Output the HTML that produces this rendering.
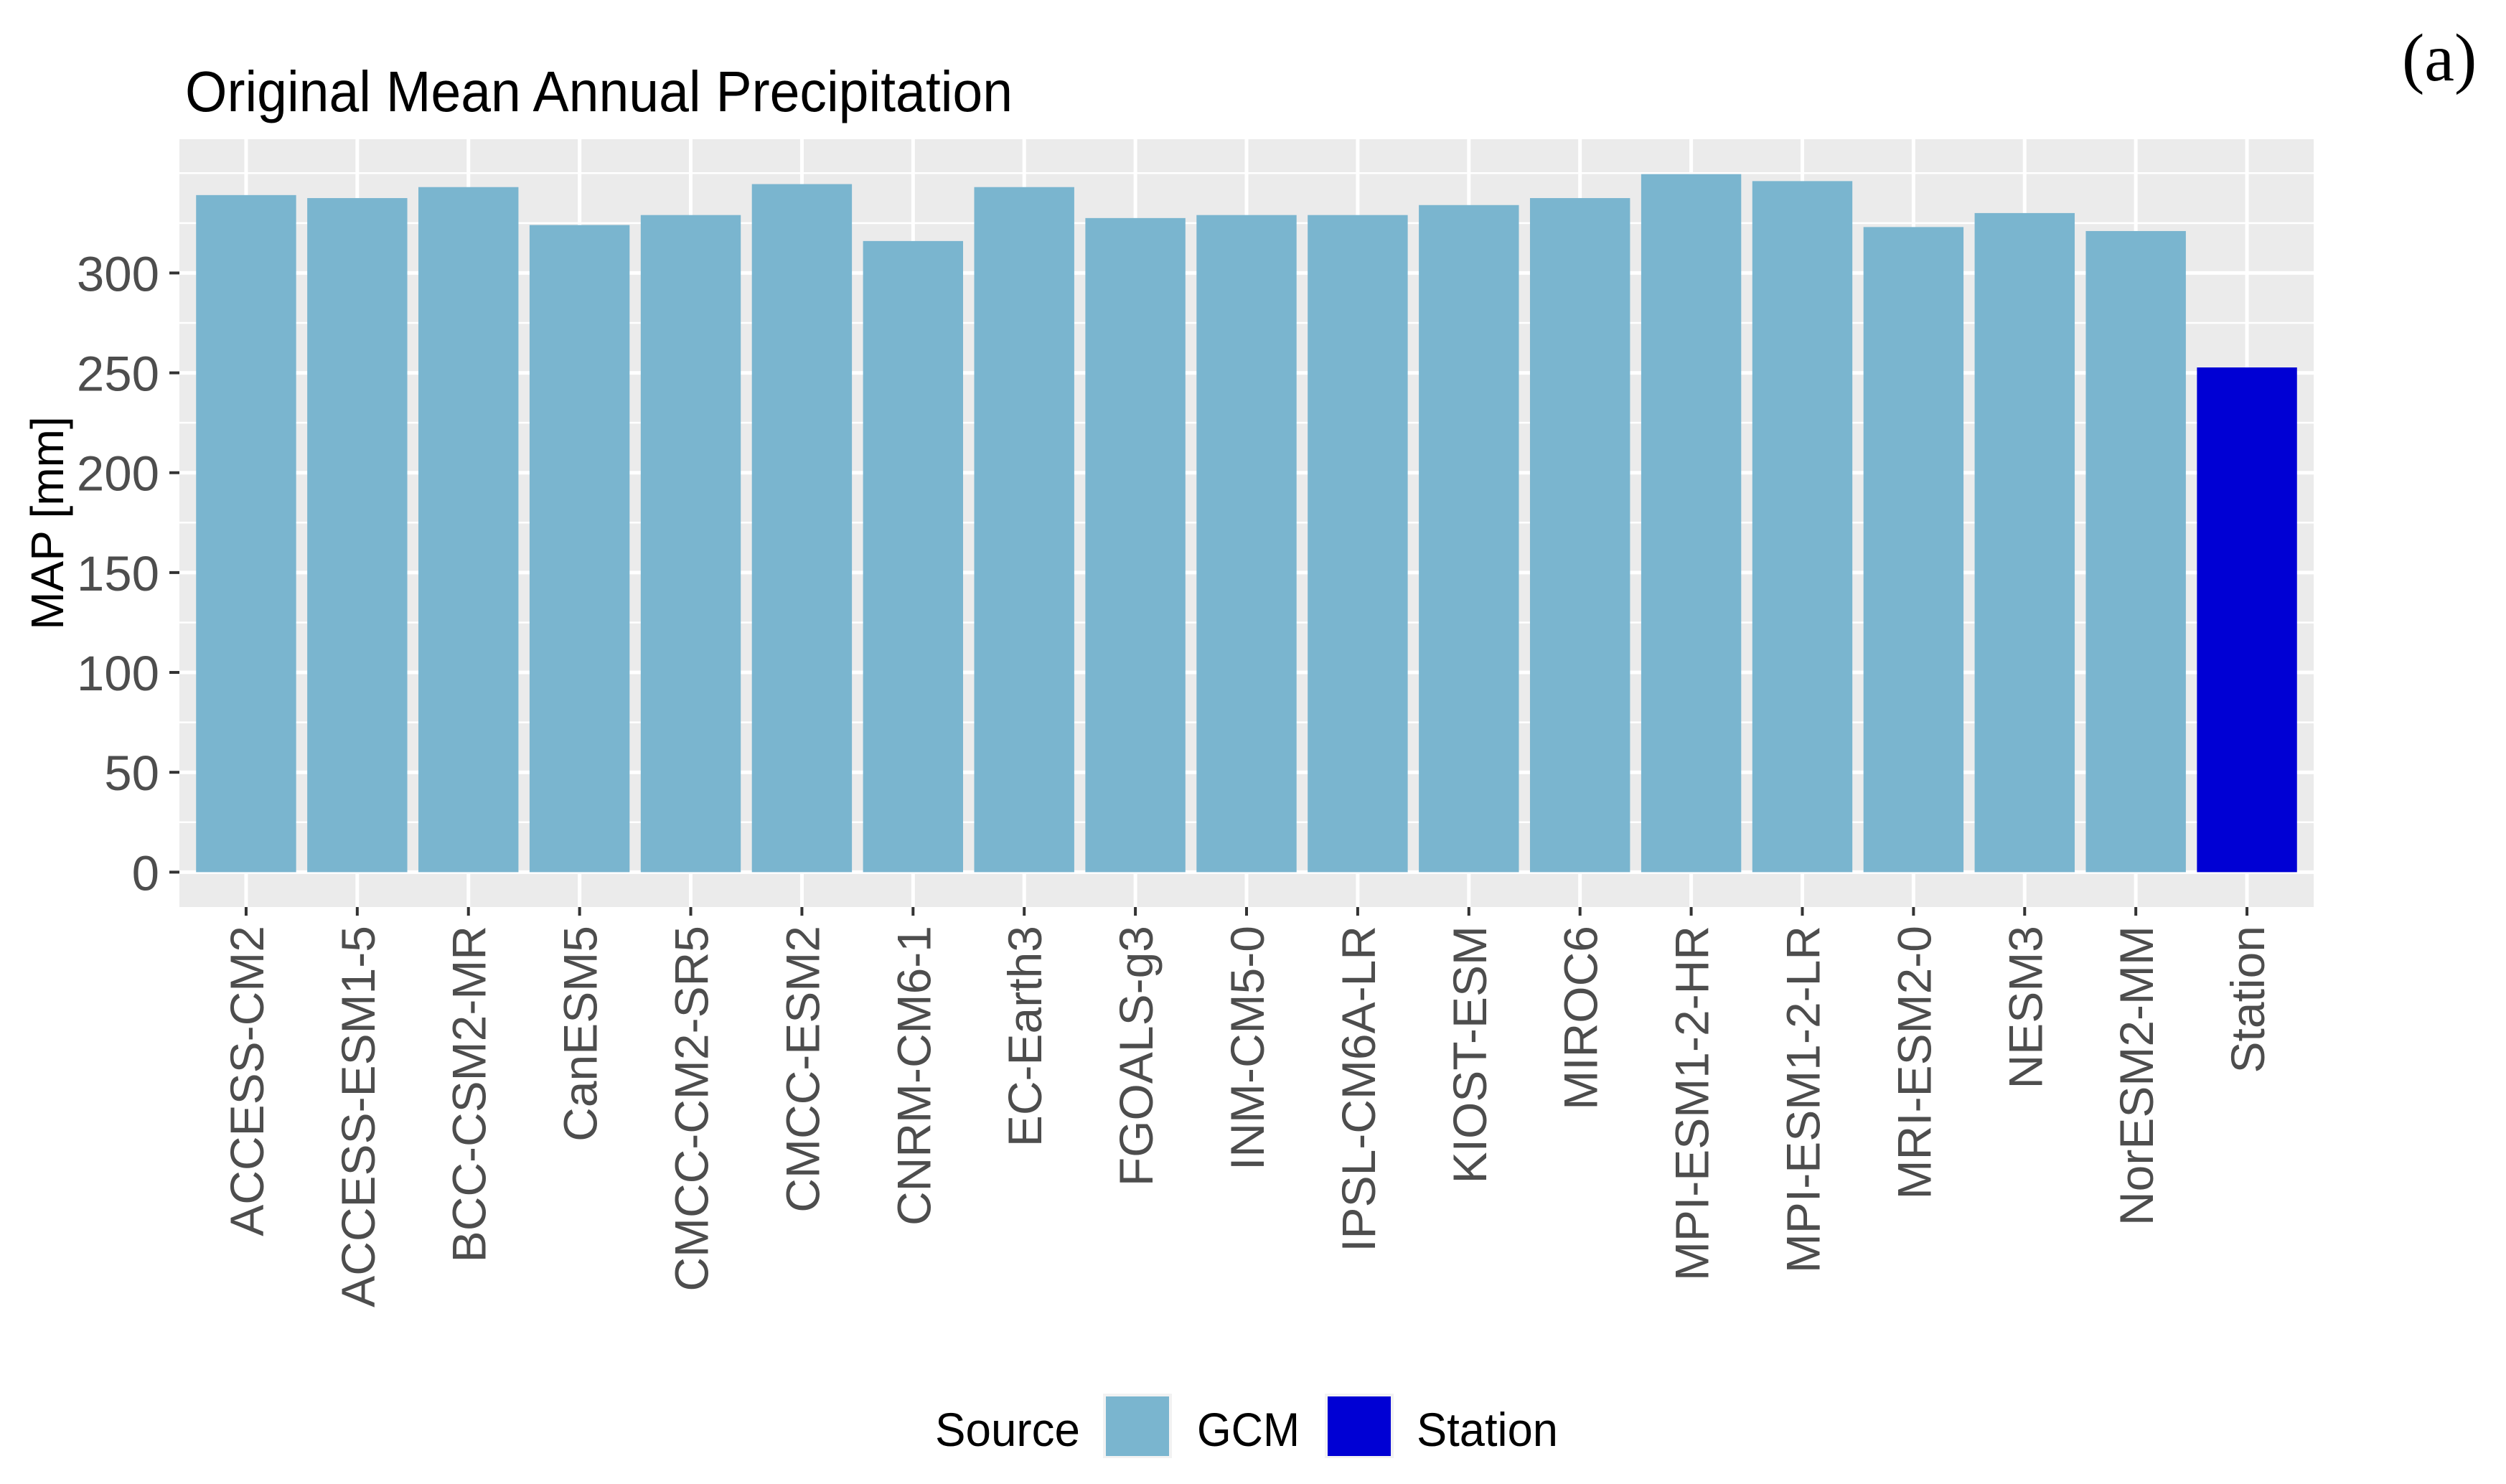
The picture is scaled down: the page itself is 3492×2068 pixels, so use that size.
<!DOCTYPE html>
<html><head><meta charset="utf-8"><style>
html,body{margin:0;padding:0;background:#fff;}
svg{display:block;}
text{font-family:"Liberation Sans",sans-serif;}
</style></head><body>
<svg id="chart" width="3492" height="2068" viewBox="0 0 3492 2068" xmlns="http://www.w3.org/2000/svg">
<rect width="3492" height="2068" fill="#fff"/>
<text x="258" y="155" font-size="80" fill="#000" textLength="1153" lengthAdjust="spacingAndGlyphs">Original Mean Annual Precipitation</text>
<text x="3347" y="112" font-size="94" fill="#000" style="font-family:'Liberation Serif',serif">(a)</text>
<rect x="250" y="194" width="2974" height="1070" fill="#ebebeb"/>
<g id="grid"></g>
<g id="bars"></g>
<g id="yaxis"></g>
<g id="xaxis"></g>
<text transform="translate(88,729) rotate(-90)" text-anchor="middle" font-size="64" fill="#000">MAP [mm]</text>
<g>
<text x="1303" y="2015" font-size="66" fill="#000" textLength="202" lengthAdjust="spacingAndGlyphs">Source</text>
<rect x="1537" y="1942" width="96" height="90" fill="#f2f2f2"/>
<rect x="1541" y="1946" width="88" height="83" fill="#7ab5cf"/>
<text x="1668" y="2015" font-size="66" fill="#000" textLength="143" lengthAdjust="spacingAndGlyphs">GCM</text>
<rect x="1846" y="1942" width="96" height="90" fill="#f2f2f2"/>
<rect x="1850" y="1946" width="88" height="83" fill="#0000d4"/>
<text x="1974" y="2015" font-size="66" fill="#000" textLength="197" lengthAdjust="spacingAndGlyphs">Station</text>
</g>
</svg>
<script>
const categories = ["ACCESS-CM2","ACCESS-ESM1-5","BCC-CSM2-MR","CanESM5","CMCC-CM2-SR5","CMCC-ESM2","CNRM-CM6-1","EC-Earth3","FGOALS-g3","INM-CM5-0","IPSL-CM6A-LR","KIOST-ESM","MIROC6","MPI-ESM1-2-HR","MPI-ESM1-2-LR","MRI-ESM2-0","NESM3","NorESM2-MM","Station"];
const values = [339,337.5,343,324,329,344.5,316,343,327.5,329,329,334,337.5,349.5,346,323,330,321,252.7];
const sources = ["GCM","GCM","GCM","GCM","GCM","GCM","GCM","GCM","GCM","GCM","GCM","GCM","GCM","GCM","GCM","GCM","GCM","GCM","Station"];
const yTicks = [0,50,100,150,200,250,300];
const yMinor = [25,75,125,175,225,275,325,350];

const NS = "http://www.w3.org/2000/svg";
const PL = 250, PR = 3224, PT = 194, PB = 1264;
const maxV = Math.max(...values);
const yMin = -0.05 * maxV, yMax = maxV * 1.05;
function y(v){ return PB - (v - yMin) / (yMax - yMin) * (PB - PT); }
const slot = (PR - PL) / (categories.length - 1 + 1.2);
function x(i){ return PL + (0.6 + i) * slot; }
function mk(tag, attrs, parent){ const e = document.createElementNS(NS, tag); for (const k in attrs) e.setAttribute(k, attrs[k]); parent.appendChild(e); return e; }

const grid = document.getElementById('grid');
yMinor.forEach(v => {
  const l = mk('line', {x1:PL, x2:PR, y1:y(v), y2:y(v), stroke:'#fff', 'stroke-width':2.5}, grid);
  
  
});
yTicks.forEach(v => {
  const l = mk('line', {x1:PL, x2:PR, y1:y(v), y2:y(v), stroke:'#fff', 'stroke-width':5}, grid);
  
  
});
categories.forEach((c, i) => {
  const l = mk('line', {x1:x(i), x2:x(i), y1:PT, y2:PB, stroke:'#fff', 'stroke-width':5}, grid);
  
  
});

const bars = document.getElementById('bars');
const bw = slot * 0.9;
values.forEach((v, i) => {
  const r = mk('rect', {x:x(i) - bw/2, y:y(v), width:bw, height:y(0) - y(v), fill: sources[i] === 'Station' ? '#0000d4' : '#7ab5cf'}, bars);
  
  
});

const ya = document.getElementById('yaxis');
yTicks.forEach(v => {
  const t = mk('line', {x1:PL - 14, x2:PL, y1:y(v), y2:y(v), stroke:'#333', 'stroke-width':4}, ya);
  
  
  const tx = mk('text', {x:PL - 28, y:y(v) + 25, 'text-anchor':'end', 'font-size':69, fill:'#4d4d4d'}, ya);
  tx.textContent = String(v);
  
  
});

const xa = document.getElementById('xaxis');
categories.forEach((c, i) => {
  const t = mk('line', {x1:x(i), x2:x(i), y1:PB, y2:PB + 12, stroke:'#333', 'stroke-width':4}, xa);
  
  
  const tx = mk('text', {transform:'translate(' + (x(i) + 24) + ',' + (PB + 26) + ') rotate(-90)', 'text-anchor':'end', 'font-size':66, fill:'#4d4d4d'}, xa);
  tx.textContent = c;
  
  
});
</script>
</body></html>
